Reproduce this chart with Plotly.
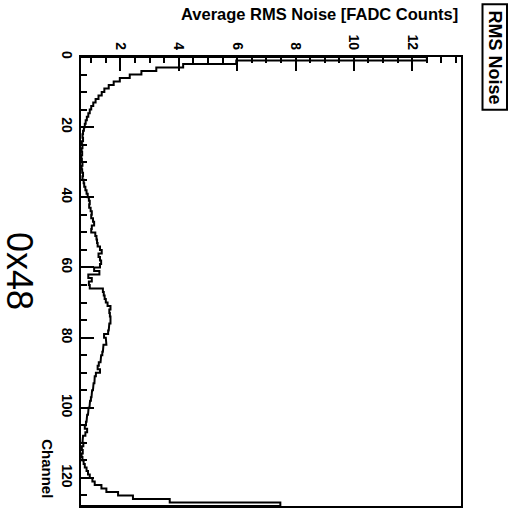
import plotly.graph_objects as go

# Average RMS noise per FADC channel (board 0x48)
channels = list(range(128))
rms_noise = [
    12.5, 5.97, 4.15, 3.23, 2.72, 2.32, 1.98, 1.77, 1.60, 1.45,
    1.36, 1.25, 1.15, 1.07, 1.00, 0.95, 0.90, 0.85, 0.81, 0.78,
    0.75, 0.72, 0.70, 0.72, 0.68, 0.70, 0.67, 0.69, 0.66, 0.68,
    0.70, 0.67, 0.69, 0.72, 0.70, 0.74, 0.76, 0.80, 0.84, 0.88,
    0.92, 0.95, 0.93, 0.98, 1.02, 1.00, 1.06, 1.10, 1.02, 1.00,
    1.14, 1.18, 1.20, 1.22, 1.30, 1.36, 1.25, 1.30, 1.34, 1.30,
    1.10, 1.28, 0.90, 1.02, 0.92, 0.95, 1.40, 1.43, 1.46, 1.50,
    1.56, 1.66, 1.62, 1.64, 1.66, 1.66, 1.62, 1.60, 1.58, 1.44,
    1.50, 1.52, 1.42, 1.40, 1.38, 1.34, 1.32, 1.26, 1.22, 1.30,
    1.16, 1.12, 1.11, 1.08, 1.06, 1.03, 1.01, 0.99, 0.96, 0.94,
    0.91, 0.89, 0.86, 0.84, 0.82, 0.78, 0.86, 0.80, 0.72, 0.70,
    0.73, 0.68, 0.71, 0.67, 0.70, 0.74, 0.78, 0.84, 0.89, 0.95,
    1.04, 1.12, 1.35, 1.52, 1.92, 2.43, 3.69, 7.48,
]

value_range = [0.65, 13.67]
channel_range = [128, 0]

title_text = "0x48"
value_title = "Average RMS Noise [FADC Counts]"
channel_title = "Channel"
legend_text = "RMS Noise"

# Step outline of the histogram (bins run down the vertical axis)
xs = [value_range[0]]
ys = [channels[0]]
for c, v in zip(channels, rms_noise):
    xs += [v, v]
    ys += [c, c + 1]
xs.append(value_range[0])
ys.append(channels[-1] + 1)

W, H = 509, 513
ML, MR, MT, MB = 81, 48, 57, 5
PW, PH = W - ML - MR, H - MT - MB


def px(x):
    return (x - ML) / PW


def py(y):
    return (H - MB - y) / PH


FONT = "Liberation Sans, Arial, Helvetica, sans-serif"

fig = go.Figure()
fig.add_trace(go.Scatter(
    x=xs, y=ys, mode="lines",
    line=dict(color="black", width=2),
    hoverinfo="skip", showlegend=False, cliponaxis=False,
))

fig.update_layout(
    width=W, height=H,
    margin=dict(l=ML, r=MR, t=MT, b=MB, pad=0),
    paper_bgcolor="white", plot_bgcolor="white",
    showlegend=False,
    xaxis=dict(
        range=value_range, side="top",
        tick0=0, dtick=2, ticks="inside", ticklen=14, tickwidth=1.5,
        tickcolor="black", tickangle=90,
        tickfont=dict(family=FONT, size=14, color="black", weight="bold"),
        minor=dict(dtick=0.5, ticks="inside", ticklen=6, tickwidth=1.5,
                   tickcolor="black"),
        showgrid=False, zeroline=False,
        showline=True, linecolor="black", linewidth=2, mirror=True,
    ),
    yaxis=dict(
        range=channel_range,
        tick0=0, dtick=20, ticks="inside", ticklen=13, tickwidth=1.5,
        tickcolor="black", tickangle=90,
        tickfont=dict(family=FONT, size=14, color="black", weight="bold"),
        minor=dict(dtick=5, ticks="inside", ticklen=6, tickwidth=1.5,
                   tickcolor="black"),
        showgrid=False, zeroline=False,
        showline=True, linecolor="black", linewidth=2, mirror=True,
    ),
)

# Board label on the left
fig.add_annotation(
    x=px(20), y=py(272), xref="paper", yref="paper",
    text=title_text, showarrow=False, textangle=90,
    font=dict(family=FONT, size=36, color="black"),
    xanchor="center", yanchor="middle",
)

# Value axis title, right-aligned to the frame
fig.add_annotation(
    x=px(460), y=py(14), xref="paper", yref="paper",
    text=value_title, showarrow=False,
    font=dict(family=FONT, size=16.5, color="black", weight="bold"),
    xanchor="right", yanchor="middle",
)

# Channel axis title
fig.add_annotation(
    x=px(48), y=py(470), xref="paper", yref="paper",
    text=channel_title, showarrow=False, textangle=90,
    font=dict(family=FONT, size=15, color="black", weight="bold"),
    xanchor="center", yanchor="middle",
)

# Legend box
fig.add_shape(
    type="rect", xref="paper", yref="paper",
    x0=px(482.5), x1=px(507), y0=py(110), y1=py(4),
    line=dict(color="black", width=2), fillcolor="white",
)
fig.add_annotation(
    x=px(494.5), y=py(57), xref="paper", yref="paper",
    text=legend_text, showarrow=False, textangle=90,
    font=dict(family=FONT, size=18, color="black", weight="bold"),
    xanchor="center", yanchor="middle",
)

fig.write_html("out.html")
